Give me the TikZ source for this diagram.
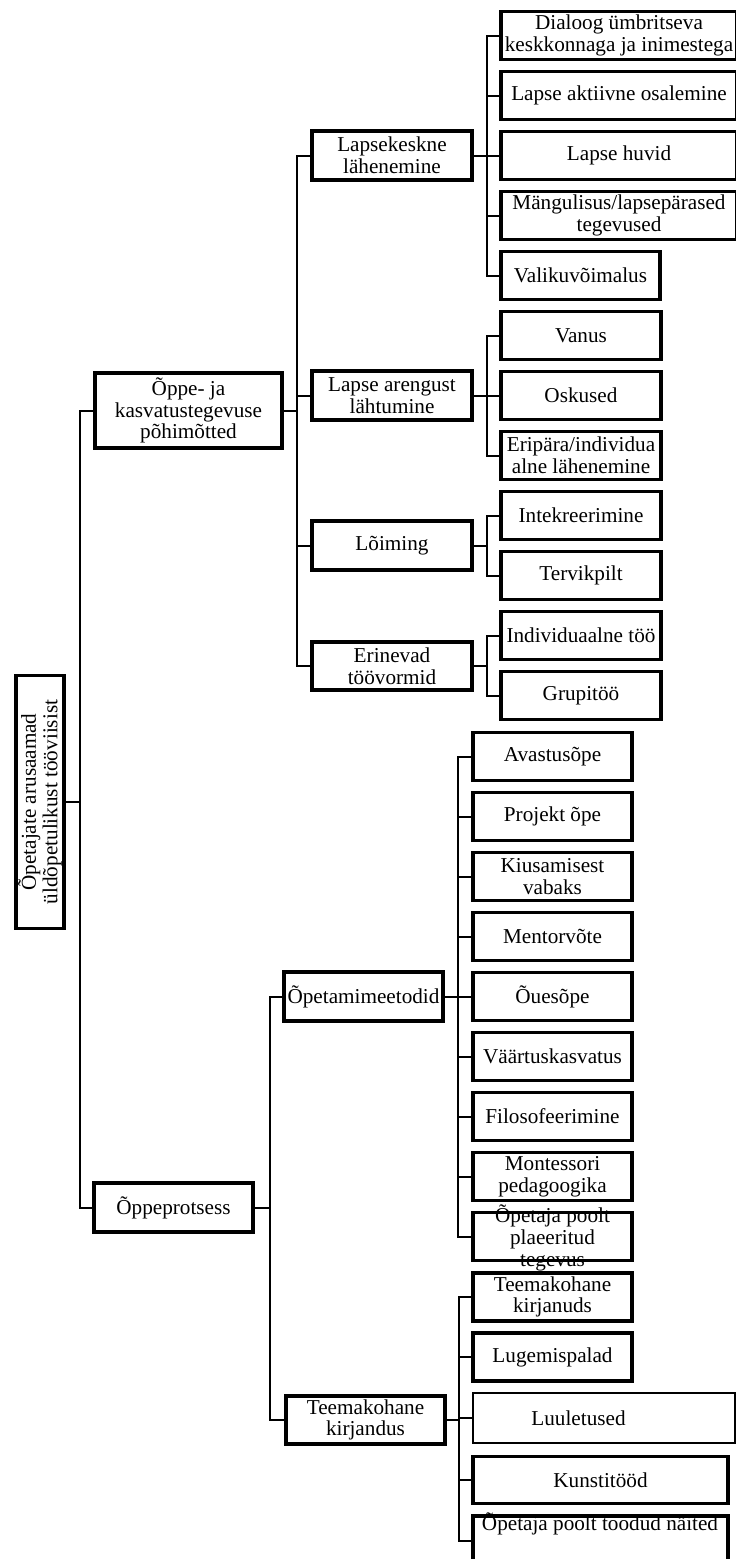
\documentclass[tikz,border=0pt]{standalone}
\usepackage{fontspec}
\setmainfont{Liberation Serif}
\begin{document}
\begin{tikzpicture}[x=1pt,y=-1pt,
  box/.style={draw=black, line width=3.3pt, inner sep=0pt, outer sep=0pt, align=center,
    font=\fontsize{21.2}{21.7}\selectfont, minimum width=160pt, minimum height=48pt},
  txt/.style={inner sep=0pt, outer sep=0pt, align=center, font=\fontsize{21.2}{21.7}\selectfont},
  conn/.style={draw=black, line width=2pt}]
\fill[white] (0,0) rectangle (736,1559);
\useasboundingbox (0,0) rectangle (736,1559);

% root
\node[box, rotate=90, minimum width=253pt, minimum height=48pt] (root) at (40,802)
  {Õpetajate arusaamad\\üldõpetulikust tööviisist};

% level 1
\node[box, minimum width=187pt, minimum height=75pt] (oppe) at (188.5,410.5)
  {Õppe- ja\\kasvatustegevuse\\põhimõtted};
\node[box, minimum width=159pt, minimum height=49pt] (prot) at (173.5,1207.5) {Õppeprotsess};

% level 2 (upper)
\node[box, minimum height=49pt] (lk) at (392,155.5) {Lapsekeskne\\lähenemine};
\node[box, minimum height=49pt] (la) at (392,395.5) {Lapse arengust\\lähtumine};
\node[box, minimum height=49pt] (lo) at (392,545.5) {Lõiming};
\node[box, minimum height=48pt] (er) at (392,666) {Erinevad\\töövormid};

% level 3 under Lapsekeskne
\node[box, minimum width=236pt] (lk1) at (619,35.5) {Dialoog ümbritseva\\keskkonnaga ja inimestega};
\node[box, minimum width=236pt] (lk2) at (619,95.5) {Lapse aktiivne osalemine};
\node[box, minimum width=236pt] (lk3) at (619,155.5) {Lapse huvid};
\node[box, minimum width=236pt] (lk4) at (619,215.5) {Mängulisus/lapsepärased\\tegevused};
\node[box, minimum width=159pt] (lk5) at (580.5,275.5) {Valikuvõimalus};

% under Lapse arengust
\node[box] (la1) at (581,335.5) {Vanus};
\node[box] (la2) at (581,395.5) {Oskused};
\node[box] (la3) at (581,455.5) {Eripära/individua\\alne lähenemine};

% under Lõiming
\node[box] (lo1) at (581,515.5) {Intekreerimine};
\node[box] (lo2) at (581,575.5) {Tervikpilt};

% under Erinevad
\node[box] (er1) at (581,635.5) {Individuaalne töö};
\node[box] (er2) at (581,695.5) {Grupitöö};

% level 2 (lower)
\node[box, minimum width=159pt, minimum height=49pt] (om) at (363.5,996.5) {Õpetamimeetodid};
\node[box, minimum width=159pt] (tk) at (365.5,1420) {Teemakohane\\kirjandus};

% under Õpetamimeetodid
\node[box, minimum width=159pt] (om1) at (552.5,756.5) {Avastusõpe};
\node[box, minimum width=159pt] (om2) at (552.5,816.5) {Projekt õpe};
\node[box, minimum width=159pt] (om3) at (552.5,876.5) {Kiusamisest\\vabaks};
\node[box, minimum width=159pt] (om4) at (552.5,936.5) {Mentorvõte};
\node[box, minimum width=159pt] (om5) at (552.5,996.5) {Õuesõpe};
\node[box, minimum width=159pt] (om6) at (552.5,1056.5) {Väärtuskasvatus};
\node[box, minimum width=159pt] (om7) at (552.5,1116.5) {Filosofeerimine};
\node[box, minimum width=159pt] (om8) at (552.5,1176.5) {Montessori\\pedagoogika};
\node[box, minimum width=159pt] (om9) at (552.5,1236.5) {};
\node[txt] (om9t) at (552.5,1238) {Õpetaja poolt\\plaeeritud\\tegevus};

% under Teemakohane kirjandus
\node[box, minimum width=159pt] (tk1) at (552.5,1297) {Teemakohane\\kirjanuds};
\node[box, minimum width=159pt] (tk2) at (552.5,1357) {Lugemispalad};
\node[box, minimum width=262pt, minimum height=50pt, line width=2.4pt] (tk3) at (604,1418) {};
\node[txt] (tk3t) at (578.5,1418) {Luuletused};
\node[box, minimum width=255pt, minimum height=47pt] (tk4) at (600.5,1480) {Kunstitööd};
\node[box, minimum width=255pt, minimum height=50pt] (tk5) at (600.5,1541) {};
\node[txt, anchor=base] (tk5t) at (600,1530) {Õpetaja poolt toodud näited};

% connectors
\foreach \c in {oppe,prot} \draw[conn] (root.south) -- ++(16,0) |- (\c.west);
\foreach \c in {lk,la,lo,er} \draw[conn] (oppe.east) -- ++(15,0) |- (\c.west);
\foreach \c in {om,tk} \draw[conn] (prot.east) -- ++(17,0) |- (\c.west);
\foreach \c in {lk1,lk2,lk3,lk4,lk5} \draw[conn] (lk.east) -- ++(15,0) |- (\c.west);
\foreach \c in {la1,la2,la3} \draw[conn] (la.east) -- ++(15,0) |- (\c.west);
\foreach \c in {lo1,lo2} \draw[conn] (lo.east) -- ++(15,0) |- (\c.west);
\foreach \c in {er1,er2} \draw[conn] (er.east) -- ++(15,0) |- (\c.west);
\foreach \c in {om1,om2,om3,om4,om5,om6,om7,om8,om9} \draw[conn] (om.east) -- ++(15,0) |- (\c.west);
\foreach \c in {tk1,tk2,tk3,tk4,tk5} \draw[conn] (tk.east) -- ++(14,0) |- (\c.west);
\end{tikzpicture}
\end{document}
